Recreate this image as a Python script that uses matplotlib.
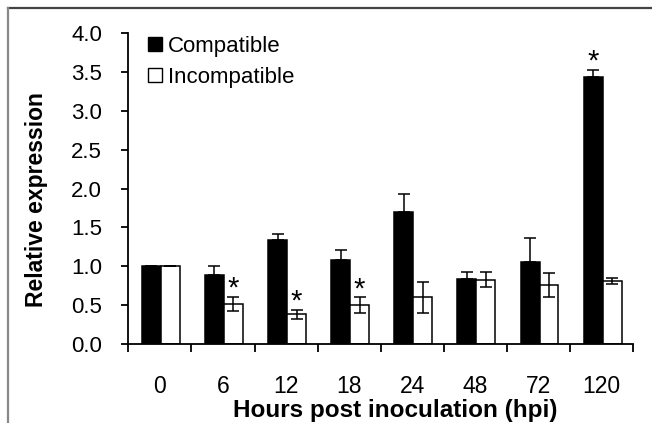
import matplotlib.pyplot as plt
import numpy as np
from matplotlib.lines import Line2D
from matplotlib.patches import Patch

plt.rcParams['font.family'] = ['Liberation Sans', 'DejaVu Sans']

# data
hpi = ["0", "6", "12", "18", "24", "48", "72", "120"]
compatible = [1.00, 0.89, 1.34, 1.08, 1.70, 0.84, 1.05, 3.44]
compatible_err = [0.00, 0.11, 0.07, 0.13, 0.23, 0.09, 0.31, 0.09]
incompatible = [1.00, 0.52, 0.38, 0.50, 0.60, 0.83, 0.76, 0.81]
incompatible_err = [0.00, 0.09, 0.06, 0.10, 0.20, 0.10, 0.16, 0.04]
sig_compatible = [False, False, False, False, False, False, False, True]
sig_incompatible = [False, True, True, True, False, False, False, False]

fig = plt.figure(figsize=(6.52, 4.23), dpi=100)
ax = fig.add_axes([0.1968, 0.1868, 0.7745, 0.7345])

x = np.arange(len(hpi))
w = 0.30
x_c = x + 0.215
x_i = x_c + w

ax.bar(x_c, compatible, w, align='edge', color='black', edgecolor='black', linewidth=1.1)
ax.bar(x_i, incompatible, w, align='edge', color='white', edgecolor='black', linewidth=1.1)

err_kw = dict(fmt='none', ecolor='black', elinewidth=1.1, capsize=4.5, capthick=1.1)
ax.errorbar(x_c + w / 2, compatible,
            yerr=[np.zeros(len(hpi)), compatible_err], **err_kw)
ax.errorbar(x_i + w / 2, incompatible, yerr=incompatible_err, **err_kw)

# significance stars
for i in range(len(hpi)):
    if sig_compatible[i]:
        ax.text(x_c[i] + w / 2, compatible[i] + compatible_err[i] - 0.08, '*',
                ha='center', va='bottom', fontsize=21)
    if sig_incompatible[i]:
        ax.text(x_i[i] + w / 2, incompatible[i] + incompatible_err[i] - 0.08, '*',
                ha='center', va='bottom', fontsize=21)

ax.set_xlim(0, len(hpi))
ax.set_ylim(0, 4.0)
ax.set_yticks(np.arange(0, 4.01, 0.5))
ax.set_yticklabels([f"{v:.1f}" for v in np.arange(0, 4.01, 0.5)], fontsize=16)
ax.set_xticks(np.arange(0, len(hpi) + 1))
ax.set_xticklabels([])
ax.set_xticks(x + 0.5, minor=True)
ax.set_xticklabels(hpi, minor=True, fontsize=16.5)
ax.tick_params(axis='x', which='major', direction='out', length=6, width=1.3)
ax.tick_params(axis='x', which='minor', length=0, pad=22)
ax.tick_params(axis='y', direction='out', length=5, width=1.3, pad=14)

for s in ['top', 'right']:
    ax.spines[s].set_visible(False)
for s in ['left', 'bottom']:
    ax.spines[s].set_linewidth(1.3)

ax.set_xlabel("Hours post inoculation (hpi)", fontsize=17.5, fontweight='bold')
ax.xaxis.set_label_coords(0.528, -0.176)
ax.set_ylabel("Relative expression", fontsize=16.5, fontweight='bold')
ax.yaxis.set_label_coords(-0.159, 0.465)

handles = [Patch(facecolor='black', edgecolor='black'),
           Patch(facecolor='white', edgecolor='black')]
ax.legend(handles, ["Compatible", "Incompatible"], loc='upper left',
          bbox_to_anchor=(0.0, 1.055), frameon=False, fontsize=16,
          handlelength=0.6, handleheight=0.6, handletextpad=0.3, labelspacing=0.45)

# frame lines of the original picture
fig.add_artist(Line2D([0.012, 1.0], [0.980, 0.980], color='#444444', linewidth=1.6))
fig.add_artist(Line2D([0.013, 0.013], [0.0, 0.980], color='#888888', linewidth=1.6))

fig.savefig("out.png", dpi=100)
